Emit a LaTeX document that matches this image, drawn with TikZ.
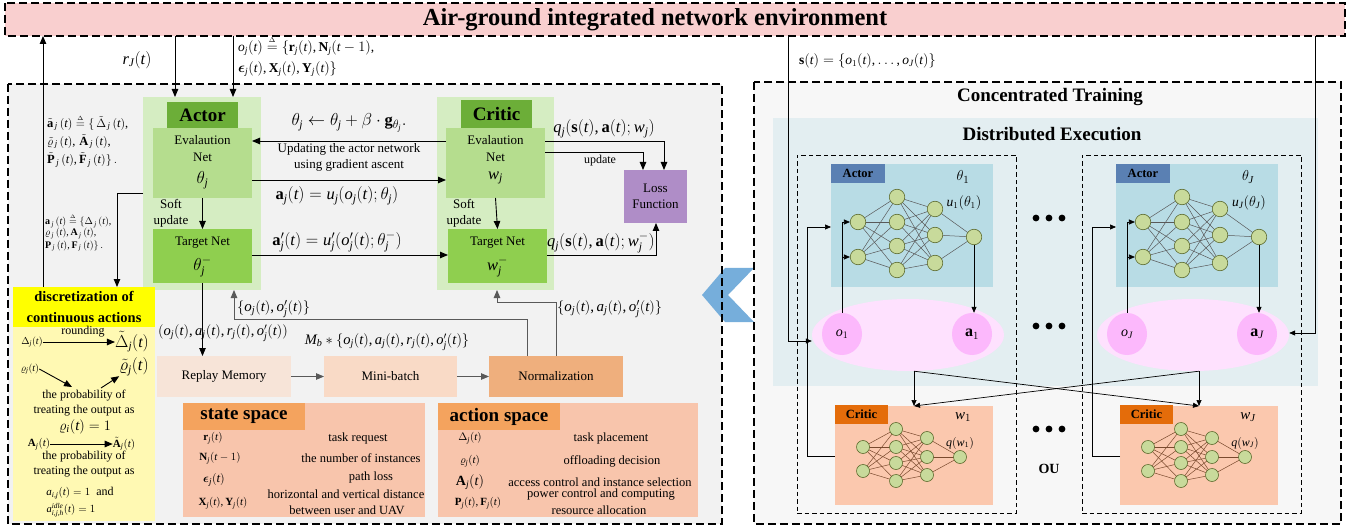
\documentclass[tikz,border=0pt]{standalone}
\usepackage{amsmath}
\usepackage{fontspec}
\setmainfont{Liberation Serif}
\newfontfamily\tmsfam[NFSSFamily=ltms]{Liberation Serif}
\DeclareSymbolFont{tmsit}{TU}{ltms}{m}{it}
\SetSymbolFont{tmsit}{bold}{TU}{ltms}{b}{it}
\DeclareSymbolFont{tmsrm}{TU}{ltms}{m}{n}
\SetSymbolFont{tmsrm}{bold}{TU}{ltms}{b}{n}
\DeclareMathAlphabet{\mathbf}{TU}{ltms}{b}{n}
\newcommand{\tmsl}[1]{\DeclareMathSymbol{#1}{\mathalpha}{tmsit}{`#1}}
\tmsl a\tmsl b\tmsl c\tmsl d\tmsl e\tmsl f\tmsl g\tmsl h\tmsl i\tmsl j\tmsl k\tmsl l\tmsl m
\tmsl n\tmsl o\tmsl p\tmsl q\tmsl r\tmsl s\tmsl t\tmsl u\tmsl v\tmsl w\tmsl x\tmsl y\tmsl z
\tmsl A\tmsl B\tmsl C\tmsl D\tmsl E\tmsl F\tmsl G\tmsl H\tmsl I\tmsl J\tmsl K\tmsl L\tmsl M
\tmsl N\tmsl O\tmsl P\tmsl Q\tmsl R\tmsl S\tmsl T\tmsl U\tmsl V\tmsl W\tmsl X\tmsl Y\tmsl Z
\newcommand{\tmsd}[1]{\DeclareMathSymbol{#1}{\mathalpha}{tmsrm}{`#1}}
\tmsd 0\tmsd 1\tmsd 2\tmsd 3\tmsd 4\tmsd 5\tmsd 6\tmsd 7\tmsd 8\tmsd 9
\DeclareMathSymbol{(}{\mathopen}{tmsrm}{`(}
\DeclareMathSymbol{)}{\mathclose}{tmsrm}{`)}
\DeclareMathSymbol{,}{\mathpunct}{tmsrm}{`,}
\DeclareMathSymbol{;}{\mathpunct}{tmsrm}{`;}
\usetikzlibrary{arrows.meta,shapes.geometric,fit}
\newcommand{\fsz}[1]{\fontsize{#1}{#1}\selectfont}
\newcommand{\mydeq}{\mathrel{\overset{\scriptscriptstyle\Delta}{=}}}
\definecolor{bannerpink}{HTML}{F9CFCF}
\definecolor{panelL}{HTML}{F2F2F2}
\definecolor{panelR}{HTML}{F7F7F7}
\definecolor{gOuter}{HTML}{D5EDC2}
\definecolor{gTitle}{HTML}{6CAE38}
\definecolor{gEval}{HTML}{B5DD8E}
\definecolor{gTarget}{HTML}{8FCF4F}
\definecolor{lossPurple}{HTML}{AF8DC7}
\definecolor{replayC}{HTML}{F7E4D8}
\definecolor{miniC}{HTML}{F9DAC6}
\definecolor{normC}{HTML}{EFAF7D}
\definecolor{spaceBody}{HTML}{F8C5AC}
\definecolor{spaceHead}{HTML}{F4A35E}
\definecolor{yHead}{HTML}{FFFF00}
\definecolor{yBody}{HTML}{FFF9B3}
\definecolor{chev}{HTML}{76AEDB}
\definecolor{deC}{HTML}{E3EEF1}
\definecolor{actBox}{HTML}{B8DCE5}
\definecolor{actLab}{HTML}{5A80B3}
\definecolor{criBox}{HTML}{FBC8AE}
\definecolor{criLab}{HTML}{E46C0A}
\definecolor{nnFill}{HTML}{C8DA9B}
\definecolor{nnLine}{HTML}{5D6B2E}
\definecolor{cEdge}{HTML}{7A4A2E}
\definecolor{ellC}{HTML}{FEE1FE}
\definecolor{circC}{HTML}{FCB8FC}
\definecolor{grayLine}{HTML}{595959}
\begin{document}
\begin{tikzpicture}[x=1pt,y=-1pt,
  box/.style={inner sep=0pt, outer sep=0pt, align=center, font=\fontsize{13}{16}\selectfont},
  arr/.style={draw=black, line width=0.9pt, -{Triangle[length=8pt,width=6.5pt]}},
  garr/.style={arr, draw=grayLine},
  sarr/.style={draw=black, line width=0.7pt, -{Triangle[length=6pt,width=5pt]}},
  bigdash/.style={draw=black, line width=1.8pt, dash pattern=on 8pt off 4pt},
  smalldash/.style={draw=black, line width=0.9pt, dash pattern=on 4.5pt off 3pt},
  lbl/.style={inner sep=0pt, font=\fsz{13}},
  mth/.style={inner sep=0pt, font=\fsz{16.5}},
  nn/.style={circle, draw=nnLine, fill=nnFill, line width=0.6pt, minimum size=15.5pt, inner sep=0pt},
  cnn/.style={nn, minimum size=13pt},
  nnedge/.style={draw=black!65, line width=0.5pt},
  cnnedge/.style={draw=cEdge, line width=0.5pt},
  hdr/.style={font=\bfseries\fsz{19}}
]
\useasboundingbox (0,0) rectangle (1351,529);

% ---------- banner ----------
\node[box, fill=bannerpink, fit={(5,3)(1345,36)}] (env) {};
\draw[bigdash] (env.north west) rectangle (env.south east);
\node[inner sep=0pt, font=\bfseries\fsz{24.5}] (title) at (655,20) {Air-ground integrated network environment};

% ---------- panels ----------
\node[box, fill=panelL, fit={(8,84)(722,524)}] (lp) {};
\node[box, fill=panelR, fit={(754,82)(1341,524)}] (rp) {};
\fill[chev] (702,295) -- (725,268) -- (754,268) -- (728,295) -- (754,322) -- (725,322) -- cycle;
\draw[bigdash] (lp.north west) rectangle (lp.south east);
\draw[bigdash] (rp.north west) rectangle (rp.south east);

% ---------- actor / critic ----------
\node[box, fill=gOuter, fit={(143,97)(261,290)}] (aout) {};
\node[box, fill=gTitle, minimum width=71pt, minimum height=26pt, hdr] (atitle) at (202.5,115) {Actor};
\node[box, fill=gEval, fit={(153,128)(252,198)}] (aeval) {};
\node[lbl] (aev1) at (202.5,140) {Evalaution};
\node[lbl] (aev2) at (202.5,157) {Net};
\node[mth] (aev3) at (202.5,180) {$\theta_j$};
\node[box, fill=gTarget, fit={(153,229)(252,283)}] (atgt) {};
\node[lbl] (atg1) at (202.5,243) {Target Net};
\node[mth] (atg2) at (202.5,267) {$\theta_j^-$};

\node[box, fill=gOuter, fit={(437,97)(554,290)}] (cout) {};
\node[box, fill=gTitle, minimum width=71pt, minimum height=28pt, hdr] (ctitle) at (496.5,114) {Critic};
\node[box, fill=gEval, fit={(446,128)(545,198)}] (ceval) {};
\node[lbl] (cev1) at (495.5,140) {Evalaution};
\node[lbl] (cev2) at (495.5,157) {Net};
\node[mth] (cev3) at (495.5,178) {$w_j$};
\node[box, fill=gTarget, fit={(448,229)(547,283)}] (ctgt) {};
\node[lbl] (ctg1) at (497.5,243) {Target Net};
\node[mth] (ctg2) at (497.5,267) {$w_j^-$};

\node[box, fill=lossPurple, minimum width=63pt, minimum height=53pt] (loss) at (655.5,196.5) {Loss\\Function};

\coordinate (r1) at (0,141);
\coordinate (r1b) at (0,152);
\coordinate (r2) at (0,180);
\coordinate (r3) at (0,255);
\coordinate (r4) at (0,193);
\coordinate (lx1) at (664,0);
\coordinate (lx2) at (643,0);
\coordinate (lx3) at (656,0);
\coordinate (lx4) at (117,0);
\draw[arr] (ceval.west |- r1) -- (aeval.east |- r1);
\draw[arr] (aeval.east |- r2) -- (ceval.west |- r2);
\draw[arr] (atgt.east |- r3) -- (ctgt.west |- r3);
\draw[arr] (aeval.south) -- (atgt.north);
\draw[arr] (ceval.south) -- (ctgt.north);
\draw[arr] (ceval.east |- r1) -| (lx1 |- loss.north);
\draw[arr] (ceval.east |- r1b) -| (lx2 |- loss.north);
\draw[arr] (ctgt.east |- r3) -| (lx3 |- loss.south);

\node[mth] (upd) at (349,123) {$\theta_j \leftarrow \theta_j + \beta\cdot\mathbf{g}_{\theta_j}.$};
\node[lbl] (upd2) at (349,149) {Updating the actor network};
\node[lbl] (upd3) at (349,165) {using gradient ascent};
\node[mth] (alab) at (337,196) {$\mathbf{a}_j(t)=u_j(o_j(t);\theta_j)$};
\node[mth] (aplab) at (337,242) {$\mathbf{a}'_j(t)=u'_j(o'_j(t);\theta_j^-)$};
\node[mth] (qlab) at (604,129) {$q_j(\mathbf{s}(t),\mathbf{a}(t);w_j)$};
\node[inner sep=0pt, font=\fsz{12}] (updl) at (600,161) {update};
\node[mth] (qlab2) at (601,243) {$q_j(\mathbf{s}(t),\mathbf{a}(t);w_j^-)$};
\node[box] (asoft) at (171,213) {Soft\\update};
\node[box] (csoft) at (464,213) {Soft\\update};

% ---------- top arrows ----------
\coordinate (ux) at (43,0);
\coordinate (rx) at (175,0);
\coordinate (ox) at (233,0);
\draw[arr] (rx |- env.south) -- (rx |- aout.north);
\draw[arr] (ox |- env.south) -- (ox |- aout.north);
\node[mth] (rlab) at (137,60) {$r_J(t)$};
\node[anchor=west, inner sep=0pt, font=\fsz{13.5}] (olab1) at (238,46) {$o_j(t)\mydeq\{\mathbf{r}_j(t),\mathbf{N}_j(t-1),$};
\node[anchor=west, inner sep=0pt, font=\fsz{13.5}] (olab2) at (238,69) {$\boldsymbol{\epsilon}_j(t),\mathbf{X}_j(t),\mathbf{Y}_j(t)\}$};

% ---------- left column ----------
\node[anchor=west, inner sep=0pt, font=\fsz{12.5}] (atil1) at (47,123) {$\tilde{\mathbf{a}}_{\,j}\,(t)\mydeq\{\,\tilde{\Delta}_{\,j}\,(t),$};
\node[anchor=west, inner sep=0pt, font=\fsz{12.5}] (atil2) at (47,141.5) {$\tilde{\varrho}_{\,j}\,(t),\,\tilde{\mathbf{A}}_{\,j}\,(t),$};
\node[anchor=west, inner sep=0pt, font=\fsz{12.5}] (atil3) at (47,160) {$\tilde{\mathbf{P}}_{\,j}\,(t),\tilde{\mathbf{F}}_{\,j}\,(t)\}\,.$};
\node[anchor=west, inner sep=0pt, font=\fsz{10}] (aor1) at (45,221) {$\mathbf{a}_{\,j}\,(t)\mydeq\{\Delta_{\,j}\,(t),$};
\node[anchor=west, inner sep=0pt, font=\fsz{10}] (aor2) at (45,233.5) {$\varrho_{\,j}\,(t),\mathbf{A}_{\,j}\,(t),$};
\node[anchor=west, inner sep=0pt, font=\fsz{10}] (aor3) at (45,246) {$\mathbf{P}_{\,j}\,(t),\mathbf{F}_{\,j}\,(t)\}\,.$};

\node[box, fill=yHead, minimum width=142pt, minimum height=40pt, font=\bfseries\fontsize{14.5}{21}\selectfont] (yh) at (84,307) {discretization of\\continuous actions};
\node[box, fill=yBody, fit={(13,327)(155,521)}] (yb) {};
\draw[arr] (ux |- yh.north) -- (ux |- env.south);
\draw[arr] (aout.west |- r4) -| (lx4 |- yh.north);

\node[inner sep=0pt, font=\fsz{10}] (dl) at (32,342) {$\Delta_j(t)$};
\node[inner sep=0pt, font=\fsz{16}] (dt) at (132,342) {$\tilde{\Delta}_j(t)$};
\draw[arr] (dl.east) -- (dt.west);
\node[inner sep=0pt, font=\fsz{12}] (rnd) at (83,332) {rounding};
\node[inner sep=0pt, font=\fsz{10}] (rl) at (30,369) {$\varrho_j(t)$};
\node[inner sep=0pt, font=\fsz{16.5}] (rt) at (134,367) {$\tilde{\varrho}_j(t)$};
\coordinate (rp1) at (72,387);
\coordinate (rp2) at (101,388);
\draw[arr] (rl.east) -- (rp1);
\draw[arr] (rp2) -- (rt.south west);
\node[box, font=\fontsize{12}{15}\selectfont] (pr1) at (84,403.5) {the probability of\\treating the output as};
\node[inner sep=0pt, font=\fsz{15}] (pr1b) at (85,427) {$\varrho_i(t)=1$};
\node[inner sep=0pt, font=\fsz{11}] (al) at (39,444) {$\mathbf{A}_j(t)$};
\node[inner sep=0pt, font=\fsz{11}] (at) at (124,444) {$\tilde{\mathbf{A}}_j(t)$};
\draw[arr] (al.east) -- (at.west);
\node[box, font=\fontsize{12}{15}\selectfont] (pr2) at (84,464.5) {the probability of\\treating the output as};
\node[inner sep=0pt, font=\fsz{12}] (pr3) at (80,493) {{\fsz{11}$a_{i,j}(t)=1$}\ \ and};
\node[inner sep=0pt, font=\fsz{10.5}] (pr4) at (71,510) {$a^{\mathit{idle}}_{i,j,h}(t)=1$};

% ---------- replay chain ----------
\node[box, fill=replayC, minimum width=134pt, minimum height=41pt] (rm) at (224,376.5) {Replay Memory};
\node[box, fill=miniC, minimum width=133pt, minimum height=41pt] (mb) at (390.5,376.5) {Mini-batch};
\node[box, fill=normC, minimum width=134pt, minimum height=41pt] (nm) at (556,376.5) {Normalization};
\draw[garr] (rm.east) -- (mb.west);
\draw[garr] (mb.east) -- (nm.west);
\draw[arr] (atgt.south) -- (atgt.south |- rm.north);
\node[inner sep=0pt, font=\fsz{14.5}] (tup) at (223,333) {$(o_j(t),a_j(t),r_j(t),o'_j(t))$};
\node[inner sep=0pt, font=\fsz{14.5}] (mbl) at (387,342) {$M_b*\{o_j(t),a_j(t),r_j(t),o'_j(t)\}$};
\coordinate (nx1) at (527,0);
\coordinate (nx2) at (234,0);
\coordinate (nx3) at (556,0);
\coordinate (nx4) at (497,0);
\coordinate (r5) at (0,319);
\coordinate (r6) at (0,302);
\draw[garr] (nx1 |- nm.north) -- (nx1 |- r5) -- (nx2 |- r5) -- (nx2 |- aout.south);
\draw[garr] (nx3 |- nm.north) -- (nx3 |- r6) -- (nx4 |- r6) -- (nx4 |- cout.south);
\node[anchor=west, inner sep=0pt, font=\fsz{15}] (ol) at (237,309) {$\{o_j(t),o'_j(t)\}$};
\node[anchor=west, inner sep=0pt, font=\fsz{15}] (oal) at (557,309) {$\{o_j(t),a_j(t),o'_j(t)\}$};

% ---------- state / action space ----------
\node[box, fill=spaceBody, fit={(183,403)(425,517)}] (ss) {};
\node[box, fill=spaceHead, minimum width=122pt, minimum height=27pt, hdr] (ssh) at (244,416.5) {state space};
\node[inner sep=0pt, font=\fsz{11}] (s1) at (213,438) {$\mathbf{r}_j(t)$};
\node[inner sep=0pt, font=\fsz{11}] (s2) at (220,458) {$\mathbf{N}_j(t-1)$};
\node[inner sep=0pt, font=\fsz{13}] (s3) at (214,480) {$\boldsymbol{\epsilon}_j(t)$};
\node[inner sep=0pt, font=\fsz{11}] (s4) at (223,503) {$\mathbf{X}_j(t),\mathbf{Y}_j(t)$};
\node[inner sep=0pt, font=\fsz{12.5}] (sd1) at (358,438) {task request};
\node[inner sep=0pt, font=\fsz{12.5}] (sd2) at (361,458) {the number of instances};
\node[inner sep=0pt, font=\fsz{12.5}] (sd3) at (371,477) {path loss};
\node[inner sep=0pt, font=\fsz{12.5}] (sd4) at (346,494) {horizontal and vertical distance};
\node[inner sep=0pt, font=\fsz{12.5}] (sd5) at (347,510) {between user and UAV};

\node[box, fill=spaceBody, fit={(438,403)(698,517)}] (as) {};
\node[box, fill=spaceHead, minimum width=122pt, minimum height=27pt, hdr] (ash) at (499,416.5) {action space};
\node[inner sep=0pt, font=\fsz{11}] (a1s) at (470,438) {$\Delta_j(t)$};
\node[inner sep=0pt, font=\fsz{11}] (a2s) at (470,461) {$\varrho_j(t)$};
\node[inner sep=0pt, font=\fsz{14}] (a3s) at (470,482) {$\mathbf{A}_j(t)$};
\node[inner sep=0pt, font=\fsz{11}] (a4s) at (478,503) {$\mathbf{P}_j(t),\mathbf{F}_j(t)$};
\node[inner sep=0pt, font=\fsz{12.5}] (ad1) at (611,438) {task placement};
\node[inner sep=0pt, font=\fsz{12.5}] (ad2) at (612,461) {offloading decision};
\node[inner sep=0pt, font=\fsz{12.5}] (ad3) at (600,482) {access control and instance selection};
\node[inner sep=0pt, font=\fsz{12.5}] (ad4) at (601,495) {power control and computing};
\node[inner sep=0pt, font=\fsz{12.5}] (ad5) at (599,510) {resource allocation};

% ---------- right panel ----------
\node[inner sep=0pt, font=\bfseries\fsz{19}] (ct) at (1050,97) {Concentrated Training};
\node[box, fill=deC, fit={(773,118)(1318,386)}] (de) {};
\node[inner sep=0pt, font=\bfseries\fsz{19}] (det) at (1052,134) {Distributed Execution};
\node[smalldash, inner sep=0pt, fit={(797,155)(1016,513)}] (ag1) {};
\node[smalldash, inner sep=0pt, fit={(1082,155)(1301,513)}] (agJ) {};
\node[anchor=west, inner sep=0pt, font=\fsz{13.5}] (sl) at (799,61) {$\mathbf{s}(t)=\{o_1(t),\ldots,o_J(t)\}$};

\foreach \k/\dx in {1/0,J/285}{
  \node[box, fill=actBox, fit={(831+\dx,164)(993+\dx,287)}] (ab\k) {};
  \node[box, fill=actLab, minimum width=54pt, minimum height=19pt, font=\bfseries\fsz{12.5}] (al\k) at (858+\dx,173.5) {Actor};
  \node[inner sep=0pt, font=\fsz{15}] (th\k) at (963+\dx,177) {$\theta_{\k}$};
  \node[inner sep=0pt, font=\fsz{13.5}] (u\k) at (964+\dx,203) {$u_{\k}(\theta_{\k})$};
  \foreach \i/\yy in {1/222,2/257} \coordinate (ai\k-\i) at (858+\dx,\yy);
  \foreach \i/\yy in {1/197,2/222,3/246,4/270} \coordinate (ah\k-\i) at (897+\dx,\yy);
  \foreach \i/\yy in {1/209,2/235,3/263} \coordinate (ag\k-\i) at (935+\dx,\yy);
  \coordinate (ao\k) at (974+\dx,237);
  \foreach \i in {1,2} \foreach \j in {1,...,4} \draw[nnedge] (ai\k-\i) -- (ah\k-\j);
  \foreach \i in {1,...,4} \foreach \j in {1,2,3} \draw[nnedge] (ah\k-\i) -- (ag\k-\j);
  \foreach \i in {1,2,3} \draw[nnedge] (ag\k-\i) -- (ao\k);
  \foreach \i in {1,2} \node[nn] (nai\k-\i) at (ai\k-\i) {};
  \foreach \i in {1,...,4} \node[nn] (nah\k-\i) at (ah\k-\i) {};
  \foreach \i in {1,2,3} \node[nn] (nag\k-\i) at (ag\k-\i) {};
  \node[nn] (nao\k) at (ao\k) {};
  % ellipse
  \node[ellipse, fill=ellC, minimum width=192pt, minimum height=72pt, inner sep=0pt] (e\k) at (908+\dx,335) {};
  \node[ellipse, fill=circC, minimum width=40pt, minimum height=42pt, inner sep=0pt, font=\fsz{14}] (oc\k) at (842+\dx,334) {$o_{\k}$};
  \node[ellipse, fill=circC, minimum width=40pt, minimum height=42pt, inner sep=0pt, font=\fsz{16}] (ac\k) at (972+\dx,334) {$\mathbf{a}_{\k}$};
  \coordinate (ix\k) at (842+\dx,0);
  \draw[sarr] (oc\k.north) -- (ix\k |- nai\k-1) -- (nai\k-1.west);
  \draw[sarr] (ix\k |- nai\k-2) -- (nai\k-2.west);
  \draw[sarr] (nao\k.south) -- (nao\k.south |- ac\k.north);
  % critic
  \node[box, fill=criBox, fit={(835+\dx,406)(993+\dx,505)}] (cb\k) {};
  \node[box, fill=criLab, minimum width=53pt, minimum height=19pt, font=\bfseries\fsz{12.5}] (cl\k) at (861.5+\dx,414.5) {Critic};
  \node[inner sep=0pt, font=\fsz{15}] (w\k) at (963+\dx,417) {$w_{\k}$};
  \node[inner sep=0pt, font=\fsz{12}] (q\k) at (960+\dx,443) {$q(w_{\k})$};
  \foreach \i/\yy in {1/447,2/471} \coordinate (ci\k-\i) at (863+\dx,\yy);
  \foreach \i/\yy in {1/429,2/447,3/463,4/481} \coordinate (ch\k-\i) at (896+\dx,\yy);
  \foreach \i/\yy in {1/438,2/457,3/475} \coordinate (cg\k-\i) at (927+\dx,\yy);
  \coordinate (co\k) at (960+\dx,457);
  \foreach \i in {1,2} \foreach \j in {1,...,4} \draw[cnnedge] (ci\k-\i) -- (ch\k-\j);
  \foreach \i in {1,...,4} \foreach \j in {1,2,3} \draw[cnnedge] (ch\k-\i) -- (cg\k-\j);
  \foreach \i in {1,2,3} \draw[cnnedge] (cg\k-\i) -- (co\k);
  \foreach \i in {1,2} \node[cnn] (nci\k-\i) at (ci\k-\i) {};
  \foreach \i in {1,...,4} \node[cnn] (nch\k-\i) at (ch\k-\i) {};
  \foreach \i in {1,2,3} \node[cnn] (ncg\k-\i) at (cg\k-\i) {};
  \node[cnn] (nco\k) at (co\k) {};
  \coordinate (k1\k) at (807+\dx,456);
  \coordinate (k2\k) at (807+\dx,227);
  \draw[sarr] (cb\k.west |- k1\k) -- (k1\k) -- (k2\k) -- (ab\k.west |- k2\k);
}

\coordinate (sx) at (788,0);
\coordinate (sy) at (0,341);
\coordinate (jx) at (1315,0);
\coordinate (jy) at (0,333);
\draw[sarr] (sx |- env.south) -- (sx |- sy) -- (e1.west |- sy);
\draw[sarr] (jx |- env.south) -- (jx |- jy) -- (eJ.east |- jy);

\draw[sarr] (cb1.north |- e1.south) -- (cb1.north);
\draw[sarr] (cb1.north |- e1.south) -- (cbJ.north);
\draw[sarr] (cbJ.north |- eJ.south) -- (cbJ.north);
\draw[sarr] (cbJ.north |- eJ.south) -- (cb1.north);

\foreach \yy in {218,326,429} \foreach \xx in {1036,1049,1062} \fill (\xx,\yy) circle (3.4pt);
\node[inner sep=0pt, font=\bfseries\fsz{14}] (ou) at (1049,469) {OU};
\end{tikzpicture}
\end{document}
